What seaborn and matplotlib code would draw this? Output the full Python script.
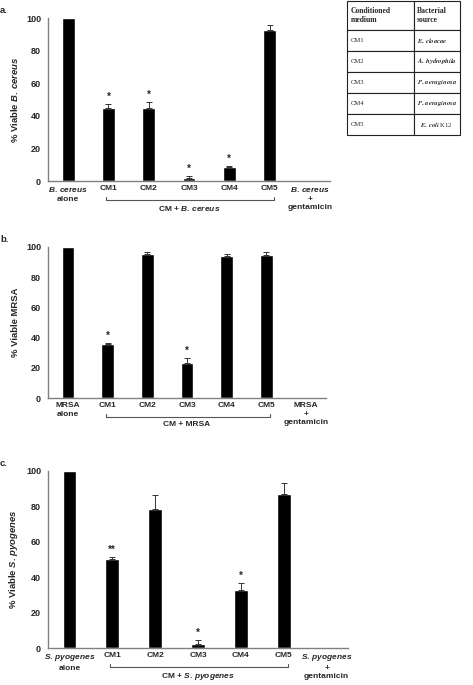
import numpy as np
import pandas as pd
import seaborn as sns
import matplotlib.pyplot as plt
import matplotlib.transforms as mtransforms

sns.set_style("white")
plt.rcParams['font.family'] = ['Liberation Sans', 'DejaVu Sans']
plt.rcParams['font.weight'] = 'bold'
plt.rcParams['axes.labelweight'] = 'bold'
plt.rcParams['mathtext.fontset'] = 'custom'
plt.rcParams['mathtext.rm'] = 'Liberation Sans:bold'
plt.rcParams['mathtext.it'] = 'Liberation Sans:italic:bold'
plt.rcParams['mathtext.bf'] = 'Liberation Sans:bold'

# data
cats = ['alone', 'CM1', 'CM2', 'CM3', 'CM4', 'CM5', 'gentamicin']

bc_vals = [100, 44.5, 44.5, 2, 8.5, 92.5, 0]
bc_err = [0, 2.5, 4, 1, 1, 3, 0]
bc_stars = ['', '*', '*', '*', '*', '', '']

mrsa_vals = [100, 36, 95.5, 23.5, 94, 95, 0]
mrsa_err = [0, 0.5, 1, 3, 1.5, 2, 0]
mrsa_stars = ['', '*', '', '*', '', '', '']

sp_vals = [100, 50.5, 78.5, 2, 32.5, 87, 0]
sp_err = [0, 1, 8, 2.5, 4, 6.5, 0]
sp_stars = ['', '**', '', '*', '*', '', '']

bc_name = r'$\mathit{B.\,cereus}$'
sp_name = r'$\mathit{S.\,pyogenes}$'

table_cm = ['CM1', 'CM2', 'CM3', 'CM4', 'CM5']
table_src = [r'$\mathit{E.\,cloacae}$', r'$\mathit{A.\,hydrophila}$',
             r'$\mathit{P.\,aeruginosa}$', r'$\mathit{P.\,aeruginosa}$',
             r'  $\mathit{E.\,coli}$ K12']


def panel(rect, name, vals, errs, stars, letter):
    ax = fig.add_axes(rect)
    df = pd.DataFrame({'cond': cats, 'val': vals})
    sns.barplot(data=df, x='cond', y='val', order=cats, color='black',
                width=0.32, errorbar=None, saturation=1, ax=ax)
    idx = [i for i, e in enumerate(errs) if e > 0]
    ax.errorbar(idx, [vals[i] for i in idx],
                yerr=[np.zeros(len(idx)), [errs[i] for i in idx]],
                fmt='none', ecolor='#333333', elinewidth=0.7, capsize=2, capthick=0.7)
    for i, (v, e, s) in enumerate(zip(vals, errs, stars)):
        if s:
            ax.annotate(s, (i, v + e), xytext=(0, 1.5), textcoords='offset points',
                        ha='center', va='bottom', fontsize=7)
    ax.set_xlim(-0.5, len(cats) - 0.5)
    ax.set_ylim(0, 100)
    ax.set_yticks([0, 20, 40, 60, 80, 100])
    ax.set_xticks(range(len(cats)))
    labels = [name + '\nalone', 'CM1', 'CM2', 'CM3', 'CM4', 'CM5', name + '\n+\ngentamicin']
    ax.set_xticklabels(labels, fontsize=6, linespacing=1.3, fontweight='bold')
    for t in ax.get_yticklabels():
        t.set_fontweight('bold')
    ax.tick_params(axis='y', labelsize=6.5, length=0, pad=5)
    ax.tick_params(axis='x', length=0, pad=3)
    ax.set_xlabel('')
    ax.set_ylabel('% Viable ' + name, fontsize=6.8, labelpad=4, fontweight='bold')
    sns.despine(ax=ax)
    for sp in ['left', 'bottom']:
        ax.spines[sp].set_color('#808080')
        ax.spines[sp].set_linewidth(1.0)
    # bracket under CM1..CM5
    tr = mtransforms.blended_transform_factory(ax.transData, ax.transAxes)
    h = rect[3] * 685
    yb = -19 / h
    tk = 3 / h
    ax.plot([0.95, 0.95, 5.1, 5.1], [yb + tk, yb, yb, yb + tk], color='#555555',
            lw=0.8, transform=tr, clip_on=False)
    ax.text(3, yb - 4 / h, 'CM + ' + name, transform=tr, ha='center', va='top',
            fontsize=6, fontweight='bold')
    fig.text(0.0, rect[1] + rect[3] + 3 / 685, letter, fontsize=6.8, fontweight='bold',
             ha='left', va='bottom')
    return ax


fig = plt.figure(figsize=(4.73, 6.85), dpi=100)

panel([48 / 473, 1 - 181 / 685, 282 / 473, 163 / 685], bc_name, bc_vals, bc_err, bc_stars, 'a.')
panel([48 / 473, 1 - 398 / 685, 278 / 473, 151 / 685], 'MRSA', mrsa_vals, mrsa_err, mrsa_stars, 'b.')
panel([48 / 473, 1 - 648 / 685, 300 / 473, 177 / 685], sp_name, sp_vals, sp_err, sp_stars, 'c.')

# table of conditioned media
tax = fig.add_axes([347 / 473, 1 - 135 / 685, 113 / 473, 134 / 685])
tax.axis('off')
cell_text = [['Conditioned\nmedium', 'Bacterial\nsource']] + [[c, s] for c, s in zip(table_cm, table_src)]
tbl = tax.table(cellText=cell_text, cellLoc='left', bbox=[0, 0, 1, 1],
                colWidths=[67 / 113, 46 / 113])
tbl.auto_set_font_size(False)
for (r, c), cell in tbl.get_celld().items():
    cell.set_height(29 if r == 0 else 21)
    cell.set_linewidth(0.8)
    cell.set_edgecolor('#222222')
    t = cell.get_text()
    t.set_fontfamily('Liberation Serif')
    t.set_fontsize(5.5 if r == 0 else 4.8)
    t.set_math_fontfamily('stix')
    t.set_fontweight('bold' if r == 0 else 'normal')
    t.set_linespacing(1.2)
    cell.PAD = 0.06

fig.savefig('out.png', dpi=100)
